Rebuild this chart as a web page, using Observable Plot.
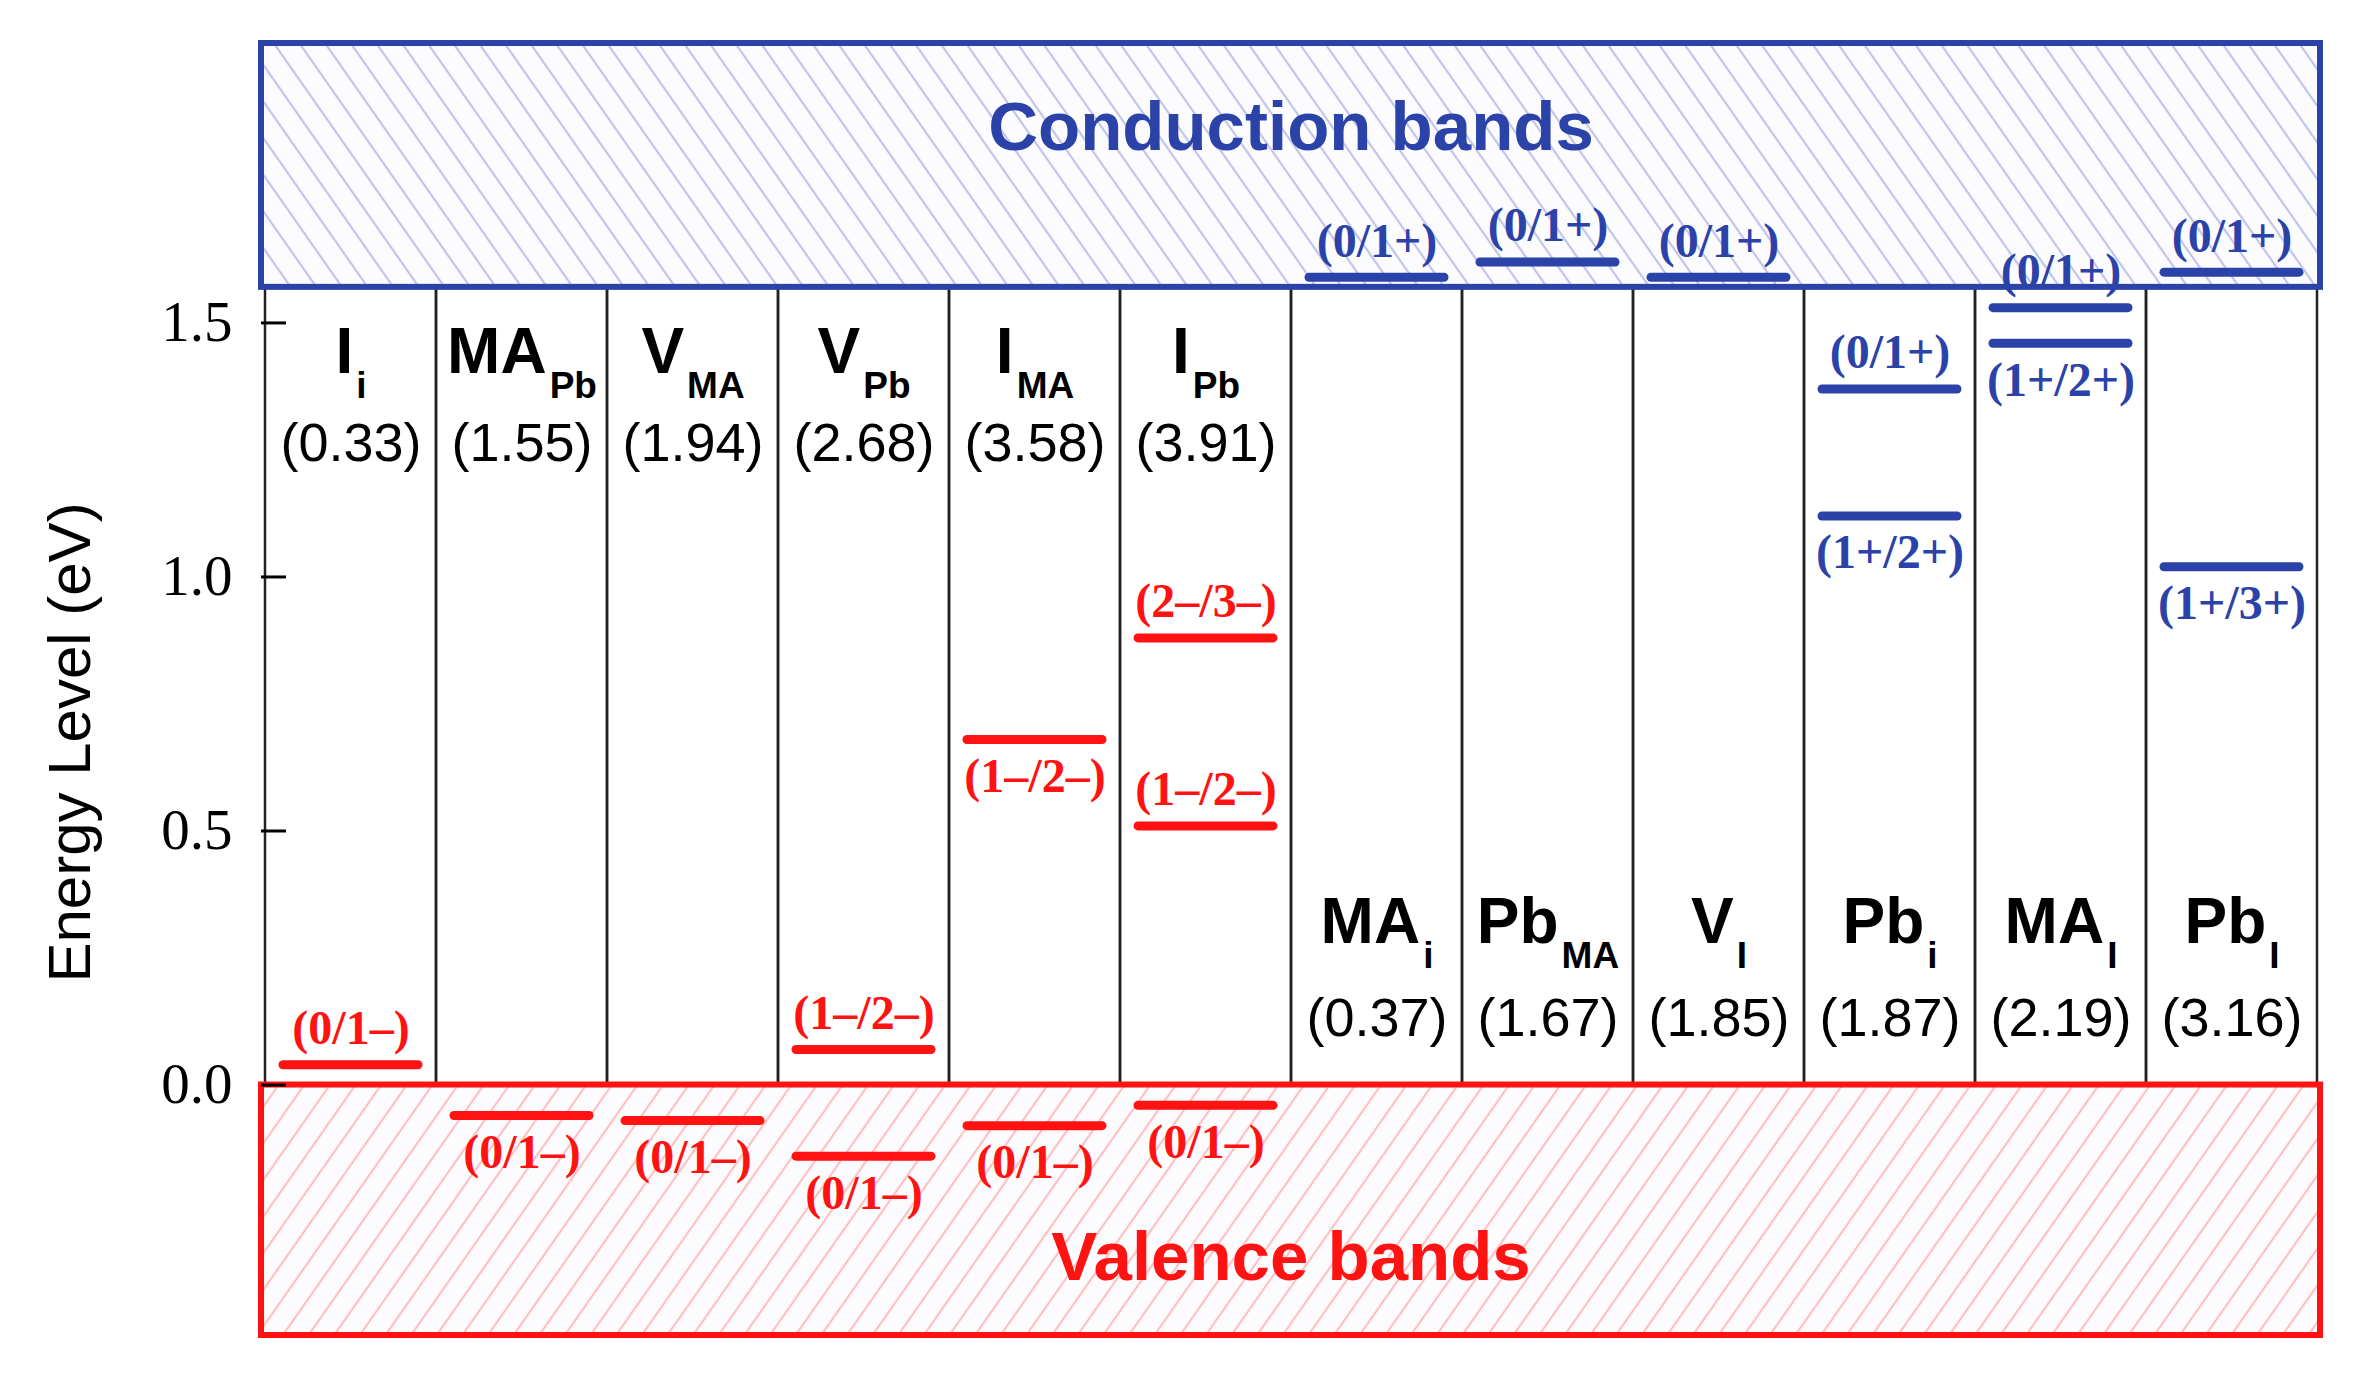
<!DOCTYPE html>
<html>
<head>
<meta charset="utf-8">
<script src="https://cdn.jsdelivr.net/npm/d3@7"></script>
<script src="https://cdn.jsdelivr.net/npm/@observablehq/plot@0.6"></script>
<style>
  html, body { margin: 0; padding: 0; background: #fff; }
  #chart svg { display: block; }
</style>
</head>
<body>
<div id="chart"></div>
<script>
// ---------------- data ----------------
// defects (main symbol, subscript) and formation energies (eV)
const defectMain = ["I", "MA", "V", "V", "I", "I", "MA", "Pb", "V", "Pb", "MA", "Pb"];
const defectSub  = ["i", "Pb", "MA", "Pb", "MA", "Pb", "i", "MA", "I", "i", "I", "I"];
const formationEnergy = [0.33, 1.55, 1.94, 2.68, 3.58, 3.91, 0.37, 1.67, 1.85, 1.87, 2.19, 3.16];

// transition levels: defect index, energy (eV), transition label
const levelDefect = [0, 1, 2, 3, 3, 4, 4, 5, 5, 5, 6, 7, 8, 9, 9, 10, 10, 11, 11];
const levelEnergy = [0.04, -0.06, -0.07, 0.07, -0.14, 0.68, -0.08, 0.88, 0.51, -0.04,
                     1.59, 1.62, 1.59, 1.37, 1.12, 1.53, 1.46, 1.60, 1.02];
const levelTransition = ["(0/1–)", "(0/1–)", "(0/1–)", "(1–/2–)", "(0/1–)", "(1–/2–)", "(0/1–)",
                         "(2–/3–)", "(1–/2–)", "(0/1–)", "(0/1+)", "(0/1+)", "(0/1+)", "(0/1+)",
                         "(1+/2+)", "(0/1+)", "(1+/2+)", "(0/1+)", "(1+/3+)"];

// bands
const bandNames = ["Conduction bands", "Valence bands"];
const bandLow  = [1.57, -0.493];
const bandHigh = [2.05, 0];
const VBM = 0, CBM = 1.57;

// y-axis ticks
const yTicks = [0, 0.5, 1.0, 1.5];

// ---------------- layout ----------------
const levelLabelSide = ["above", "below", "below", "above", "below", "below", "below", "above", "above", "below",
                        "above", "above", "above", "above", "below", "above", "below", "above", "below"];

const BLUE = "#2b43a8", RED = "#ff1212";

const defects = defectMain.map((m, i) => ({id: m + "_" + defectSub[i], main: m, sub: defectSub[i], ef: formationEnergy[i]}));
const levels = levelEnergy.map((e, i) => ({
  defect: defects[levelDefect[i]].id,
  energy: e,
  transition: levelTransition[i],
  side: levelLabelSide[i],
  acceptor: levelTransition[i].includes("–")
}));
defects.forEach(d => { d.acceptor = levels.some(l => l.defect === d.id && l.acceptor); });
const bands = bandNames.map((n, i) => ({name: n, lo: bandLow[i], hi: bandHigh[i]}));
const cb = [bands[0]], vb = [bands[1]];

const sans = "Liberation Sans, Arial, sans-serif";
const serif = "Liberation Serif, Times New Roman, serif";

const accLevels = levels.filter(l => l.acceptor), donLevels = levels.filter(l => !l.acceptor);
const topDefects = defects.filter(d => d.acceptor), botDefects = defects.filter(d => !d.acceptor);
const levelColor = d => d.acceptor ? RED : BLUE;

const plot = Plot.plot({
  width: 2364,
  height: 1379,
  marginLeft: 261,
  marginRight: 44,
  marginTop: 43,
  marginBottom: 44,
  style: {background: "white", color: "black"},
  x: {type: "band", domain: defects.map(d => d.id), padding: 0, axis: null},
  y: {domain: [-0.493, 2.05]},
  marks: [
    // defect columns
    Plot.barY(defects, {x: "id", y1: VBM, y2: CBM, fill: "none", stroke: "#222", strokeWidth: 2.5}),
    // bands
    Plot.rect(cb, {y1: "lo", y2: "hi", fill: "url(#hatch-cb)", stroke: BLUE, strokeWidth: 6}),
    Plot.rect(vb, {y1: "lo", y2: "hi", fill: "url(#hatch-vb)", stroke: RED, strokeWidth: 6}),
    Plot.text(cb, {text: "name", frameAnchor: "top", dy: 106, lineAnchor: "bottom", fill: BLUE,
                   fontSize: 69, fontWeight: "bold", fontFamily: sans}),
    Plot.text(vb, {text: "name", frameAnchor: "bottom", dy: -56, lineAnchor: "bottom", fill: RED,
                   fontSize: 69, fontWeight: "bold", fontFamily: sans}),
    // y axis
    Plot.axisY(yTicks, {anchor: "left", tickSize: 0, tickPadding: 29, tickFormat: d3.format(".1f"),
                        fontFamily: serif, fontSize: 57, label: null}),
    Plot.axisY(yTicks, {anchor: "left", tickSize: -25, tickFormat: () => "", strokeWidth: 3, label: null}),
    Plot.text(["Energy Level (eV)"], {text: d => d, frameAnchor: "left", textAnchor: "middle", rotate: -90,
                                       dx: -172, dy: 53, lineAnchor: "bottom", fontSize: 60, fontFamily: sans}),
    // transition levels
    Plot.tickY(accLevels, {x: "defect", y: "energy", stroke: RED, strokeWidth: 9, strokeLinecap: "round", inset: 18}),
    Plot.tickY(donLevels, {x: "defect", y: "energy", stroke: BLUE, strokeWidth: 9, strokeLinecap: "round", inset: 18}),
    Plot.text(levels.filter(l => l.side === "above"), {x: "defect", y: "energy", text: "transition", dy: -36,
      fill: levelColor, fontSize: 48, fontWeight: "bold", fontFamily: serif}),
    Plot.text(levels.filter(l => l.side === "below"), {x: "defect", y: "energy", text: "transition", dy: 37,
      fill: levelColor, fontSize: 48, fontWeight: "bold", fontFamily: serif}),
    // defect names and formation energies
    Plot.text(topDefects, {x: "id", text: d => d.main + "|" + d.sub, frameAnchor: "top", dy: 329, lineAnchor: "bottom",
      fontSize: 64, fontWeight: "bold", fontFamily: sans, className: "defect-name"}),
    Plot.text(topDefects, {x: "id", text: d => `(${d.ef.toFixed(2)})`, frameAnchor: "top", dy: 417, lineAnchor: "bottom",
      fontSize: 54, fontFamily: sans}),
    Plot.text(botDefects, {x: "id", text: d => d.main + "|" + d.sub, frameAnchor: "bottom", dy: -393, lineAnchor: "bottom",
      fontSize: 64, fontWeight: "bold", fontFamily: sans, className: "defect-name"}),
    Plot.text(botDefects, {x: "id", text: d => `(${d.ef.toFixed(2)})`, frameAnchor: "bottom", dy: -300, lineAnchor: "bottom",
      fontSize: 54, fontFamily: sans})
  ]
});

const svg = d3.select(plot);

// hatch patterns
const defs = svg.insert("defs", ":first-child");
function hatch(id, color, angle) {
  const s = 21;
  const p = defs.append("pattern").attr("id", id).attr("patternUnits", "userSpaceOnUse")
    .attr("width", s).attr("height", s).attr("patternTransform", `rotate(${angle})`);
  p.append("rect").attr("width", s).attr("height", s).attr("fill", "#fcfcfe");
  p.append("line").attr("x1", s / 2).attr("x2", s / 2).attr("y1", -1).attr("y2", s + 1)
    .attr("stroke", color).attr("stroke-width", 1.7);
}
hatch("hatch-cb", "#b0b5e3", -35);
hatch("hatch-vb", "#ffb0b0", 35);

// subscripts in defect names
svg.selectAll("g.defect-name text").each(function () {
  const [m, s] = this.textContent.split("|");
  const t = d3.select(this);
  t.text(null);
  t.append("tspan").text(m);
  t.append("tspan").attr("dx", 3).attr("dy", 25).attr("font-size", 37).text(s);
});

document.getElementById("chart").appendChild(plot);
</script>
</body>
</html>
